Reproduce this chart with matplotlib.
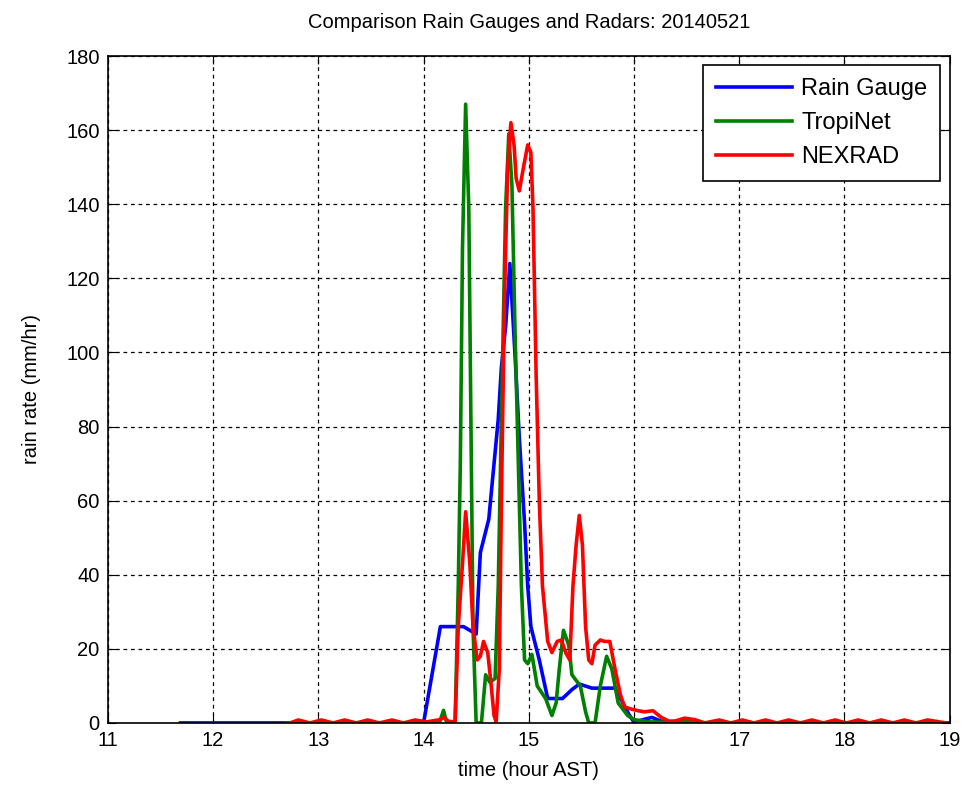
import matplotlib.pyplot as plt

plt.rcParams['font.family'] = ['Liberation Sans', 'DejaVu Sans']

# rain gauge
gauge_t = [11.69, 14.0, 14.08, 14.16, 14.38, 14.44, 14.5, 14.54, 14.62, 14.66, 14.71,
           14.74, 14.78, 14.82, 14.87, 14.91, 14.96, 14.99, 15.02, 15.1, 15.18,
           15.32, 15.41, 15.48, 15.6, 15.82, 15.95, 16.0, 16.1, 16.17, 16.3, 19.0]
gauge_v = [0, 0, 13, 26, 26, 25, 24, 46, 55, 67, 82,
           96, 107, 124, 99, 77, 54, 37, 26, 17, 6.6,
           6.6, 9, 10.5, 9.4, 9.4, 2.4, 0.2, 1.0, 1.5, 0, 0]

# tropinet
tropi_t = [12.7, 14.0, 14.15, 14.19, 14.22, 14.30, 14.33, 14.35, 14.37, 14.40,
           14.43, 14.45, 14.47, 14.5, 14.55, 14.59, 14.63, 14.68, 14.71, 14.74,
           14.78, 14.81, 14.84, 14.87, 14.90, 14.93, 14.96, 14.99, 15.03, 15.08,
           15.16, 15.22, 15.26, 15.29, 15.33, 15.38, 15.41, 15.49, 15.54, 15.57,
           15.63, 15.68, 15.74, 15.79, 15.85, 15.94, 16.0, 16.14, 16.3, 16.45,
           16.55, 16.7, 18.9]
tropi_v = [0, 0, 0, 3.4, 0, 0, 37, 71, 128, 167,
           139, 82, 26, 0, 0, 13, 11, 12, 37, 82,
           139, 159, 145, 105, 71, 37, 17, 16, 18.5, 10,
           6.6, 2, 5.4, 14.5, 25, 21, 13, 10, 3, 0,
           0, 10, 18, 14.5, 5.4, 2, 0.9, 0.3, 0.2, 0.6,
           0.4, 0, 0]

# nexrad
nex_t = [12.73, 12.81, 12.92, 13.03, 13.14, 13.25, 13.36, 13.47, 13.58, 13.70,
         13.81, 13.92, 14.03, 14.16, 14.19, 14.24, 14.30, 14.33, 14.37, 14.40,
         14.44, 14.47, 14.51, 14.54, 14.57, 14.61, 14.64, 14.67, 14.69, 14.72,
         14.74, 14.77, 14.80, 14.83, 14.86, 14.88, 14.91, 14.95, 14.99, 15.02,
         15.04, 15.07, 15.10, 15.13, 15.18, 15.22, 15.27, 15.31, 15.35, 15.39,
         15.42, 15.45, 15.48, 15.51, 15.54, 15.57, 15.60, 15.63, 15.68, 15.72,
         15.77, 15.82, 15.87, 15.91, 15.98, 16.04, 16.10, 16.18, 16.26, 16.33,
         16.39, 16.48, 16.58, 16.67, 16.81, 16.92, 17.03, 17.14, 17.25, 17.36,
         17.47, 17.58, 17.69, 17.80, 17.91, 18.02, 18.13, 18.24, 18.35, 18.46,
         18.57, 18.68, 18.79, 18.90, 18.97]
nex_v = [0, 0.8, 0, 0.8, 0, 0.8, 0, 0.8, 0, 0.8,
         0, 0.8, 0.3, 0.9, 1.5, 0.4, 0.3, 26, 43, 57,
         43, 26, 17, 18, 22, 19, 11, 2, 0.3, 14.5,
         60, 116, 150, 162, 156, 147, 143.6, 150, 156, 154,
         139, 94, 60, 37, 22, 19, 22, 22.4, 19, 17,
         37, 48, 56, 48, 26, 17, 16, 21, 22.4, 22,
         22, 14.5, 7.7, 4.3, 3.7, 3.3, 3.0, 3.3, 1.5, 0.5,
         0.5, 1.3, 0.9, 0, 0.8, 0, 0.8, 0, 0.8, 0,
         0.8, 0, 0.8, 0, 0.8, 0, 0.8, 0, 0.8, 0,
         0.8, 0, 0.8, 0.3, 0]

fig = plt.figure(figsize=(9.72, 7.89), dpi=100)
ax = fig.add_axes([0.111, 0.0837, 0.866, 0.8453])

ax.plot(gauge_t, gauge_v, color=(0, 0, 1), lw=2.6, label='Rain Gauge')
ax.plot(tropi_t, tropi_v, color=(0, 0.5, 0), lw=2.6, label='TropiNet')
ax.plot(nex_t, nex_v, color=(1, 0, 0), lw=2.6, label='NEXRAD')

ax.set_xlim(11, 19)
ax.set_ylim(0, 180)
ax.set_xticks(range(11, 20))
ax.set_yticks(range(0, 181, 20))
ax.grid(True, color='black', linestyle=(0, (3, 3)), linewidth=0.9)
ax.tick_params(direction='in', top=True, right=True, labelsize=14.5, length=6)
ax.tick_params(axis='x', pad=6)
ax.tick_params(axis='y', pad=6)
for s in ax.spines.values():
    s.set_linewidth(1.2)

ax.set_title('Comparison Rain Gauges and Radars: 20140521', fontsize=14.5, pad=20)
ax.set_xlabel('time (hour AST)', fontsize=14.5, labelpad=8)
ax.set_ylabel('rain rate (mm/hr)', fontsize=14.5, labelpad=18)

leg = ax.legend(loc='upper right', fontsize=17, fancybox=False, framealpha=1,
                edgecolor='black', borderaxespad=0.4, handlelength=3.2,
                handletextpad=0.4, borderpad=0.55, labelspacing=0.5)
leg.get_frame().set_linewidth(1.2)

fig.savefig('out.png', dpi=100)
